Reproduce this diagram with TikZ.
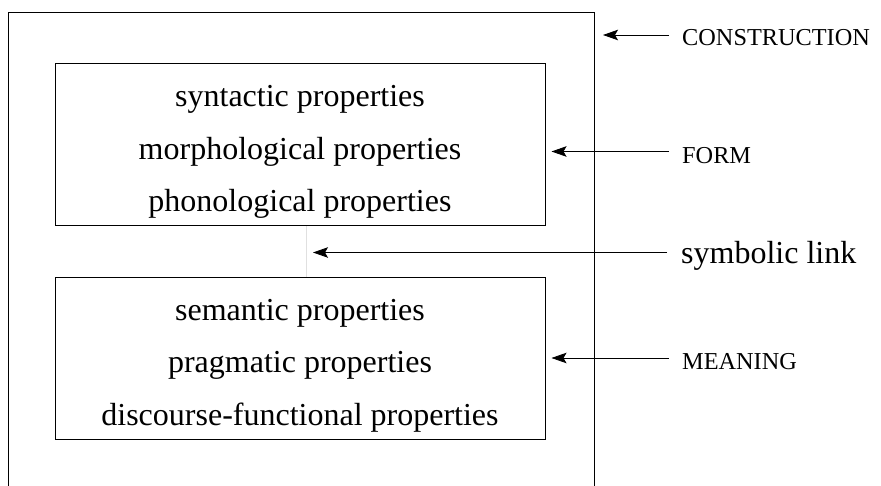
\documentclass[tikz,border=0pt]{standalone}
\usepackage{fontspec}
\setmainfont{Liberation Serif}
\usetikzlibrary{arrows.meta}
\tikzset{
  propbox/.style={draw,line width=1pt,minimum width=490pt,minimum height=162pt,inner sep=0pt},
  proptext/.style={inner sep=0pt,align=center,font=\fontsize{32}{52.5}\selectfont},
  tag/.style={anchor=west,inner sep=0pt,font=\fontsize{24.3}{28}\selectfont},
  bigtag/.style={anchor=west,inner sep=0pt,font=\fontsize{32}{38}\selectfont},
  arr/.style={-{Stealth[length=15pt,width=10.5pt,inset=3pt]},line width=0.8pt},
}
\begin{document}
\begin{tikzpicture}[x=1pt,y=-1pt]
        \useasboundingbox (0,0) rectangle (881,486);
        %% Construction frame
        \coordinate (fnw) at (8,12);
        \coordinate (fne) at (594,12);
        \draw[line width=0.9pt] (fnw |- 0,486) -- (fnw) -- (fne) -- (fne |- 0,486);
        %% Form and meaning
        \node[propbox] (form) at (300,145) {};
        \node[propbox] (meaning) at (300,358.5) {};
        \node[proptext] (formtext) at ([yshift=-7pt]form.center) {syntactic properties\\morphological properties\\phonological properties};
        \node[proptext] (meaningtext) at ([yshift=-7pt]meaning.center) {semantic properties\\pragmatic properties\\discourse-functional properties};
        \coordinate (link) at (306,252);
        \draw[black!12,line width=1pt] (form.south -| link) -- (meaning.north -| link);
        %% Labels
        \node[tag] (conlbl) at (682,38) {CONSTRUCTION};
        \node[tag] (formlbl) at (682,155.5) {FORM};
        \node[bigtag] (linklbl) at (681,255.5) {symbolic link};
        \node[tag] (meanlbl) at (682,362) {MEANING};
        \coordinate (contip) at (603,35);
        \coordinate (formtip) at (551.5,151.5);
        \coordinate (linktip) at (313,252.5);
        \coordinate (meantip) at (551.5,358);
        \draw[arr] ([xshift=-13pt,yshift=3pt]conlbl.west) -- (contip);
        \draw[arr] ([xshift=-13pt,yshift=4pt]formlbl.west) -- (formtip);
        \draw[arr] ([xshift=-14pt,yshift=3pt]linklbl.west) -- (linktip);
        \draw[arr] ([xshift=-13pt,yshift=4pt]meanlbl.west) -- (meantip);
\end{tikzpicture}
\end{document}
